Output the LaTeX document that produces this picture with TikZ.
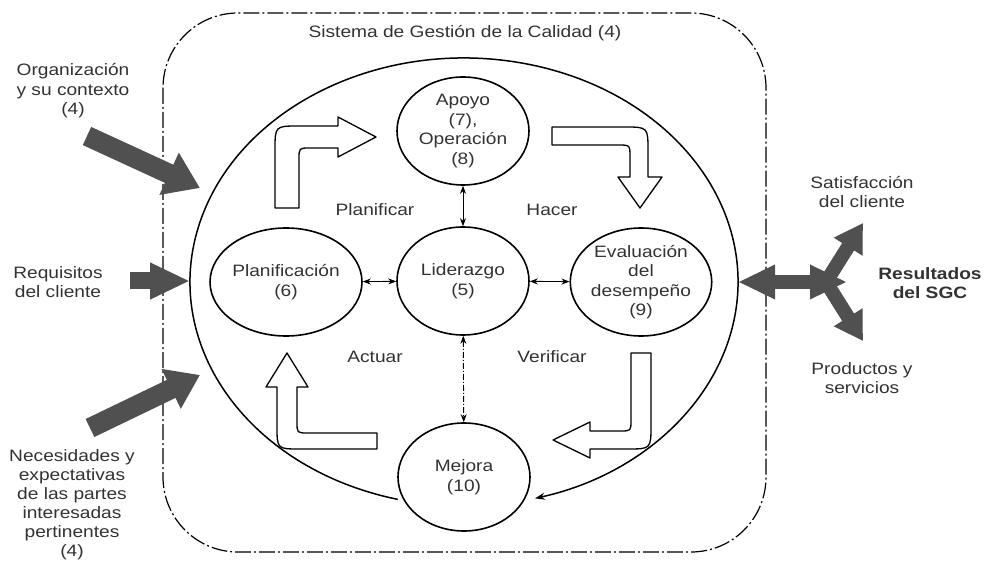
\documentclass[tikz,border=0pt]{standalone}
\usepackage{fontspec}
\setmainfont{Liberation Sans}[FakeStretch=1.16]
\usetikzlibrary{arrows.meta,shapes.geometric}
\definecolor{txt}{RGB}{50,50,50}
\definecolor{dark}{RGB}{80,80,80}
\begin{document}
\begin{tikzpicture}[x=1pt,y=-1pt,
  font=\fontsize{16.5}{19.5}\selectfont,
  cnode/.style={ellipse, draw, line width=1.6pt, minimum width=132pt, minimum height=108pt, inner sep=0pt, align=center, text=txt},
  lbl/.style={align=center, text=txt, inner sep=0pt},
  blk/.style={draw, line width=1.3pt, fill=white, line join=round},
  border/.style={line width=1.2pt, dash pattern=on 16pt off 3pt on 2pt off 3pt},
  smallarr/.style={line width=0.9pt, {Stealth[length=8pt,width=6pt]}-{Stealth[length=8pt,width=6pt]}},
  darkarr/.style={draw=dark, fill=dark, line width=#1},
]
\useasboundingbox (0,0) rectangle (986,564);

% outer dash-dot border
\draw[border, rounded corners=75pt] (163,13) rectangle (766,552);
\node[lbl] (title) at (465,33) {Sistema de Gestión de la Calidad (4)};

% big cycle ellipse
\draw[line width=1.5pt, -{Stealth[length=10pt,width=7pt]}] (464,282) ++(104:274 and 224)
  arc[start angle=104, end angle=435, x radius=274, y radius=224];

% inner nodes
\node[cnode] (ap)   at (463,131) {Apoyo\\(7),\\Operación\\(8)};
\node[cnode] (lid)  at (463,281) {Liderazgo\\(5)};
\node[cnode] (plan) at (286,282) {Planificación\\(6)};
\node[cnode] (eval) at (641,282) {Evaluación\\del\\desempeño\\(9)};
\node[cnode] (mej)  at (464,477) {Mejora\\(10)};

\draw[smallarr] (plan) -- (lid);
\draw[smallarr] (lid) -- (eval);
\draw[smallarr] (ap) -- (lid);
\draw[smallarr, dash pattern=on 6pt off 2pt on 1pt off 2pt] (lid) -- (mej);

% hollow cycle arrows
\draw[blk] (275,208) -- (275,150) .. controls (275,126) .. (299,126) -- (338,126) -- (338,117) -- (376,137) -- (338,157) -- (338,148) -- (310,148) .. controls (299,148) .. (299,159) -- (299,208) -- cycle;
\draw[blk] (552,127) -- (624,127) .. controls (648,127) .. (648,151) -- (648,177) -- (662,177) -- (640,208) -- (618,177) -- (630,177) -- (630,157) .. controls (630,145) .. (618,145) -- (552,145) -- cycle;
\draw[blk] (631,353) -- (651,353) -- (651,425) .. controls (651,449) .. (627,449) -- (590,449) -- (590,458) -- (553,440) -- (590,422) -- (590,431) -- (620,431) .. controls (631,431) .. (631,420) -- cycle;
\draw[blk] (377,433) -- (377,449) -- (300,449) .. controls (277,449) .. (277,426) -- (277,387) -- (266,387) -- (287,353) -- (308,387) -- (297,387) -- (297,422) .. controls (297,433) .. (308,433) -- cycle;

% cycle labels
\node[lbl] (pl) at (375,210) {Planificar};
\node[lbl] (ha) at (552,210) {Hacer};
\node[lbl] (ac) at (375,357) {Actuar};
\node[lbl] (ve) at (552,357) {Verificar};

% left inputs
\node[lbl] (org) at (73,91) {Organización\\y su contexto\\(4)};
\node[lbl] (req) at (58,282) {Requisitos\\del cliente};
\node[lbl, font=\fontsize{16.5}{19}\selectfont] (nec) at (72,505) {Necesidades y\\expectativas\\de las partes\\interesadas\\pertinentes\\(4)};

\coordinate (a1s) at (87,136);  \coordinate (a1e) at (200,188);
\coordinate (a2s) at (130,281); \coordinate (a2e) at (190,281);
\coordinate (a3s) at (90,428);  \coordinate (a3e) at (200,375);
\draw[darkarr=20pt, -{Triangle[length=34pt,width=44pt]}] (a1s) -- (a1e);
\draw[darkarr=17pt, -{Triangle[length=40pt,width=34pt]}] (a2s) -- (a2e);
\draw[darkarr=20pt, -{Triangle[length=32pt,width=42pt]}] (a3s) -- (a3e);

% right outputs
\node[lbl] (sat) at (862,192) {Satisfacción\\del cliente};
\node[lbl, font=\fontsize{16.5}{19.5}\selectfont\bfseries] (res) at (930,283) {Resultados\\del SGC};
\node[lbl] (prod) at (862,378) {Productos y\\servicios};

\coordinate (rl) at (738,282); \coordinate (rr) at (847,282);
\coordinate (rj) at (826,282);
\coordinate (ru) at (863,223); \coordinate (rd) at (863,341);
\draw[darkarr=14pt, -{Triangle[length=28pt,width=32pt]}] (rj) -- (ru);
\draw[darkarr=14pt, -{Triangle[length=28pt,width=32pt]}] (rj) -- (rd);
\draw[darkarr=14pt, {Triangle[length=37pt,width=32pt]}-{Triangle[length=37pt,width=32pt]}] (rl) -- (rr);
\end{tikzpicture}
\end{document}
